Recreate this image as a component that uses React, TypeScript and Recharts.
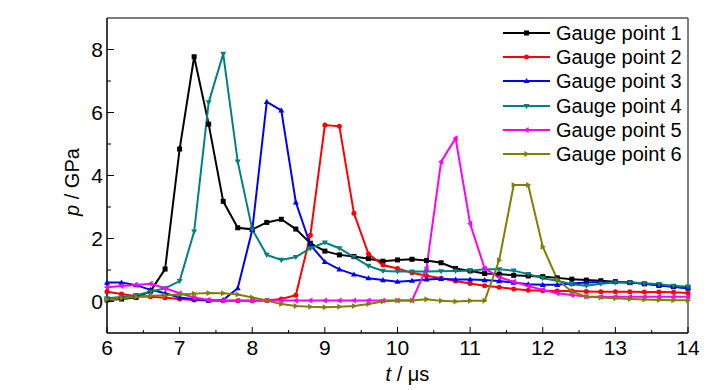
import { LineChart, Line, XAxis, YAxis, Legend, ReferenceLine } from 'recharts'

document.body.style.margin = '0'

const times = [
  6.0, 6.2, 6.4, 6.6, 6.8, 7.0, 7.2, 7.4, 7.6, 7.8, 8.0, 8.2, 8.4, 8.6, 8.8, 9.0, 9.2, 9.4, 9.6, 9.8, 10.0,
  10.2, 10.4, 10.6, 10.8, 11.0, 11.2, 11.4, 11.6, 11.8, 12.0, 12.2, 12.4, 12.6, 12.8, 13.0, 13.2, 13.4, 13.6, 13.8, 14.0,
]

const gauge1 = [
  0.05, 0.08, 0.13, 0.33, 1.03, 4.84, 7.77, 5.63, 3.18, 2.34, 2.29, 2.51, 2.61, 2.3, 1.85, 1.6, 1.48, 1.43, 1.36, 1.28, 1.32,
  1.34, 1.3, 1.23, 1.05, 0.97, 0.89, 0.87, 0.83, 0.81, 0.79, 0.75, 0.71, 0.68, 0.66, 0.63, 0.6, 0.56, 0.51, 0.47, 0.43,
]
const gauge2 = [
  0.31, 0.24, 0.17, 0.15, 0.12, 0.08, 0.05, 0.03, 0.02, 0.02, 0.02, 0.03, 0.08, 0.2, 2.1, 5.6, 5.56, 2.8, 1.51, 1.16, 1.05,
  0.91, 0.82, 0.74, 0.65, 0.57, 0.5, 0.45, 0.4, 0.36, 0.34, 0.33, 0.33, 0.32, 0.31, 0.31, 0.31, 0.3, 0.3, 0.29, 0.27,
]
const gauge3 = [
  0.6, 0.6, 0.52, 0.37, 0.26, 0.13, 0.07, 0.03, 0.05, 0.42, 2.27, 6.34, 6.07, 3.15, 1.8, 1.26, 1.02, 0.86, 0.74, 0.68, 0.63,
  0.66, 0.7, 0.72, 0.7, 0.7, 0.68, 0.65, 0.6, 0.55, 0.53, 0.53, 0.57, 0.6, 0.62, 0.62, 0.6, 0.57, 0.52, 0.47, 0.42,
]
const gauge4 = [
  0.1, 0.14, 0.2, 0.31, 0.42, 0.65, 2.22, 6.32, 7.86, 4.44, 2.29, 1.48, 1.32, 1.41, 1.69, 1.87, 1.69, 1.41, 1.13, 0.97, 0.95,
  0.95, 0.95, 0.96, 0.97, 0.98, 1.02, 1.02, 0.98, 0.87, 0.74, 0.66, 0.55, 0.5, 0.56, 0.6, 0.6, 0.58, 0.55, 0.5, 0.47,
]
const gauge5 = [
  0.45, 0.49, 0.52, 0.56, 0.42, 0.26, 0.13, 0.05, 0.03, 0.03, 0.03, 0.03, 0.03, 0.03, 0.03, 0.03, 0.03, 0.03, 0.03, 0.03, 0.03,
  0.03, 1.07, 4.44, 5.18, 2.47, 1.05, 0.77, 0.63, 0.49, 0.37, 0.26, 0.21, 0.16, 0.15, 0.15, 0.15, 0.15, 0.15, 0.15, 0.15,
]
const gauge6 = [
  0.06, 0.1, 0.14, 0.18, 0.2, 0.22, 0.25, 0.27, 0.26, 0.22, 0.13, 0.03, -0.08, -0.14, -0.17, -0.18, -0.17, -0.14, -0.08, 0.0, 0.03,
  0.03, 0.07, 0.02, 0.0, 0.02, 0.02, 1.31, 3.7, 3.7, 1.74, 0.7, 0.31, 0.15, 0.13, 0.1, 0.08, 0.06, 0.05, 0.04, 0.04,
]

const xTicks = [6, 6.5, 7, 7.5, 8, 8.5, 9, 9.5, 10, 10.5, 11, 11.5, 12, 12.5, 13, 13.5, 14]
const yTicks = [0, 1, 2, 3, 4, 5, 6, 7, 8]

type Shape = 'square' | 'circle' | 'up' | 'down' | 'left' | 'right'

const series: { key: string; name: string; color: string; shape: Shape; values: number[] }[] = [
  { key: 'g1', name: 'Gauge point 1', color: '#000000', shape: 'square', values: gauge1 },
  { key: 'g2', name: 'Gauge point 2', color: '#ff0000', shape: 'circle', values: gauge2 },
  { key: 'g3', name: 'Gauge point 3', color: '#0000ff', shape: 'up', values: gauge3 },
  { key: 'g4', name: 'Gauge point 4', color: '#008080', shape: 'down', values: gauge4 },
  { key: 'g5', name: 'Gauge point 5', color: '#ff00ff', shape: 'left', values: gauge5 },
  { key: 'g6', name: 'Gauge point 6', color: '#808000', shape: 'right', values: gauge6 },
]

const data = times.map((t, i) => {
  const row: Record<string, number> = { t }
  series.forEach(s => {
    row[s.key] = s.values[i]
  })
  return row
})

const FONT = '"Liberation Sans", Arial, sans-serif'

function Marker({ cx, cy, shape, color }: { cx: number; cy: number; shape: Shape; color: string }) {
  const r = 3
  if (shape === 'square') return <rect x={cx - 2.5} y={cy - 2.5} width={5} height={5} fill={color} />
  if (shape === 'circle') return <circle cx={cx} cy={cy} r={2.5} fill={color} />
  let pts = ''
  if (shape === 'up') pts = `${cx},${cy - r} ${cx - r},${cy + r * 0.7} ${cx + r},${cy + r * 0.7}`
  if (shape === 'down') pts = `${cx},${cy + r} ${cx - r},${cy - r * 0.7} ${cx + r},${cy - r * 0.7}`
  if (shape === 'left') pts = `${cx - r},${cy} ${cx + r * 0.7},${cy - r} ${cx + r * 0.7},${cy + r}`
  if (shape === 'right') pts = `${cx + r},${cy} ${cx - r * 0.7},${cy - r} ${cx - r * 0.7},${cy + r}`
  return <polygon points={pts} fill={color} />
}

function XTick({ x, y, payload }: any) {
  const v = payload.value as number
  const major = Number.isInteger(v)
  return (
    <g>
      <line x1={x} x2={x} y1={y} y2={y - (major ? 6 : 3)} stroke='#000' strokeWidth={1} />
      {major && (
        <text x={x} y={y + 22} textAnchor='middle' fontSize={21} fontFamily={FONT} fill='#000'>
          {v}
        </text>
      )}
    </g>
  )
}

function YTick({ x, y, payload }: any) {
  const v = payload.value as number
  const major = v % 2 === 0
  return (
    <g>
      <line x1={x} x2={x + (major ? 7 : 4)} y1={y} y2={y} stroke='#000' strokeWidth={1} />
      {major && (
        <text x={x - 4} y={y + 7.5} textAnchor='end' fontSize={21} fontFamily={FONT} fill='#000'>
          {v}
        </text>
      )}
    </g>
  )
}

function LegendContent() {
  return (
    <div style={{ fontFamily: FONT, fontSize: 20, color: '#000' }}>
      {series.map(s => (
        <div key={s.key} style={{ display: 'flex', alignItems: 'center', height: 24.2 }}>
          <svg width={53} height={12} style={{ display: 'block' }}>
            <line x1={0} x2={47} y1={6} y2={6} stroke={s.color} strokeWidth={2} />
            <Marker cx={23.5} cy={6} shape={s.shape} color={s.color} />
          </svg>
          <span style={{ lineHeight: '20px' }}>{s.name}</span>
        </div>
      ))}
    </div>
  )
}

export default function App() {
  return (
    <div style={{ width: 728, height: 390, background: '#fff' }}>
      <LineChart width={728} height={390} data={data} margin={{ top: 18, right: 40, left: 47, bottom: 0 }}>
        <XAxis
          dataKey='t'
          type='number'
          domain={[6, 14]}
          ticks={xTicks}
          interval={0}
          tickSize={0}
          tickMargin={0}
          tickLine={false}
          tick={<XTick />}
          axisLine={{ stroke: '#000', strokeWidth: 1.5 }}
          height={57}
          label={{
            content: (props: any) => {
              const vb = props.viewBox
              return (
                <text x={vb.x + vb.width / 2 + 10} y={vb.y + 48} textAnchor='middle' fontSize={20} fontFamily={FONT} fill='#000'>
                  <tspan fontStyle='italic'>t</tspan> / μs
                </text>
              )
            },
          }}
        />
        <YAxis
          type='number'
          domain={[-1, 9]}
          ticks={yTicks}
          interval={0}
          tickSize={0}
          tickMargin={0}
          tickLine={false}
          tick={<YTick />}
          width={60}
          axisLine={{ stroke: '#000', strokeWidth: 1.5 }}
          allowDataOverflow
          label={{
            content: () => (
              <text
                x={72}
                y={182}
                transform='rotate(-90 72 182)'
                textAnchor='middle'
                dominantBaseline='central'
                fontSize={20}
                fontFamily={FONT}
                fill='#000'
              >
                <tspan fontStyle='italic'>p</tspan> / GPa
              </text>
            ),
          }}
        />
        <ReferenceLine y={9} stroke='#555' strokeWidth={1.5} />
        <ReferenceLine x={14} stroke='#555' strokeWidth={1.5} />
        {series.map(s => (
          <Line
            key={s.key}
            dataKey={s.key}
            name={s.name}
            type='linear'
            stroke={s.color}
            strokeWidth={2}
            isAnimationActive={false}
            dot={(p: any) => <Marker key={`${s.key}-${p.index}`} cx={p.cx} cy={p.cy} shape={s.shape} color={s.color} />}
            activeDot={false}
          />
        ))}
        <Legend
          layout='vertical'
          align='center'
          verticalAlign='middle'
          content={<LegendContent />}
          wrapperStyle={{ position: 'absolute', top: 21, left: 503, width: 220 }}
        />
      </LineChart>
    </div>
  )
}
